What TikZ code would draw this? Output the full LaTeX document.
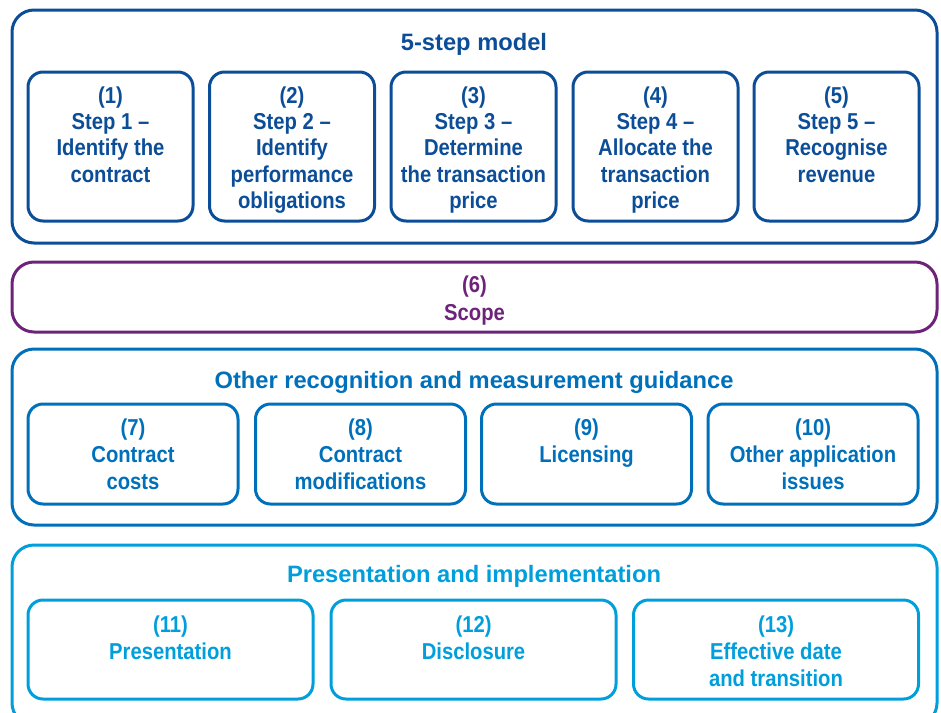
\documentclass[tikz,border=0pt]{standalone}
\usepackage{fontspec}
\setmainfont{Liberation Sans}
\newfontfamily\condfont[FakeStretch=0.88]{Liberation Sans}
\definecolor{stepblue}{RGB}{12,77,152}
\definecolor{scopepurple}{RGB}{110,35,122}
\definecolor{otherblue}{RGB}{0,112,186}
\definecolor{presblue}{RGB}{0,158,219}
\begin{document}
\begin{tikzpicture}[x=1pt,y=-1pt,
    panel/.style={draw,line width=3pt,rounded corners=22pt,inner sep=0pt,minimum width=925pt},
    box/.style={draw,line width=3pt,rounded corners=15pt,inner sep=0pt},
    boxtext/.style={anchor=north,align=center,inner sep=0pt,
        font=\condfont\bfseries\fontsize{23}{26.3}\selectfont},
    title/.style={font=\bfseries\fontsize{23.7}{27}\selectfont}]
\clip (0,0) rectangle (941,712);
% 5-step model
\node[panel,stepblue,minimum height=233pt] (p1) at (474.5,126.5) {};
\node[title,stepblue] (h1) at (474,44) {5-step model};
\foreach \i/\x/\txt in {1/110.5/{Step 1 –\\Identify the\\contract},
    2/292/{Step 2 –\\Identify\\performance\\obligations},
    3/473.5/{Step 3 –\\Determine\\the transaction\\price},
    4/655.5/{Step 4 –\\Allocate the\\transaction\\price},
    5/836.5/{Step 5 –\\Recognise\\revenue}}
{
    \node[box,stepblue,minimum width=165pt,minimum height=149pt] (s\i) at (\x,146.5) {};
    \node[boxtext,stepblue] (st\i) at ([yshift=-16pt]s\i.north) {(\i)\\\txt};
}
% scope
\node[panel,scopepurple,minimum height=70pt] (p2) at (474.5,297) {};
\node[boxtext,scopepurple,anchor=center,font=\condfont\bfseries\fontsize{23}{28}\selectfont] (h2) at (474.5,301) {(6)\\Scope};
% other recognition and measurement guidance
\node[panel,otherblue,minimum height=176pt] (p3) at (474.5,437) {};
\node[title,otherblue] (h3) at (474,382) {Other recognition and measurement guidance};
\foreach \i/\x/\txt in {7/133/{Contract\\costs},
    8/360.5/{Contract\\modifications},
    9/586.5/{Licensing},
    10/813/{Other application\\issues}}
{
    \node[box,otherblue,minimum width=210pt,minimum height=100pt] (o\i) at (\x,454) {};
    \node[boxtext,otherblue,font=\condfont\bfseries\fontsize{23}{27.3}\selectfont] (ot\i) at ([yshift=-16pt]o\i.north) {(\i)\\\txt};
}
% presentation and implementation
\node[panel,presblue,minimum height=180pt] (p4) at (474.5,635) {};
\node[title,presblue] (h4) at (474,576) {Presentation and implementation};
\foreach \i/\x/\txt in {11/170.5/{Presentation},
    12/473.5/{Disclosure},
    13/776/{Effective date\\and transition}}
{
    \node[box,presblue,minimum width=285pt,minimum height=99pt] (r\i) at (\x,649.5) {};
    \node[boxtext,presblue,font=\condfont\bfseries\fontsize{23}{27}\selectfont] (rt\i) at ([yshift=-17pt]r\i.north) {(\i)\\\txt};
}
\end{tikzpicture}
\end{document}
